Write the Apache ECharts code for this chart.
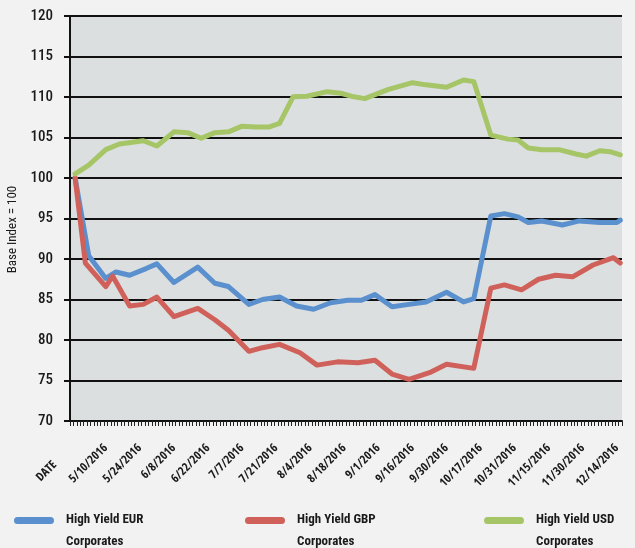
<!DOCTYPE html>
<html><head><meta charset="utf-8">
<script src="https://cdn.jsdelivr.net/npm/echarts@6/dist/echarts.min.js"></script>
<style>html,body{margin:0;padding:0;background:#f2f2f2}#c{width:635px;height:548px}</style>
</head><body><div id="c"></div>
<script>
// Category axis: first cell is the header "DATE", then US bond-market business days
const firstLabel = 'DATE';
const startDay = [2016, 4, 27];
const holidays = ['5/30/2016', '7/4/2016', '9/5/2016', '10/10/2016', '11/11/2016', '11/24/2016'];
const dayCount = 161;

const seriesNames = ['High Yield EUR Corporates', 'High Yield GBP Corporates', 'High Yield USD Corporates'];
const seriesColors = ['#5a90cd', '#d0615a', '#a6c566'];

// values read at the line vertices (index into categories)
const eurIdx = [1,5,10,13,17,22,25,30,37,42,46,52,56,61,66,71,76,81,85,89,94,99,104,110,115,118,123,127,131,134,138,144,149,155,160,161];
const eurVal = [100,90.4,87.6,88.4,88.0,88.85,89.4,87.1,89.0,87.0,86.6,84.4,85.0,85.3,84.2,83.8,84.6,84.9,84.9,85.6,84.1,84.4,84.7,85.9,84.7,85.1,95.3,95.6,95.2,94.5,94.7,94.2,94.7,94.5,94.5,94.8];

const gbpIdx = [1,4,10,12,17,21,25,30,37,42,46,52,56,61,67,72,78,84,89,94,99,105,110,118,123,127,132,137,142,147,153,159,161];
const gbpVal = [100,89.5,86.6,87.9,84.2,84.4,85.3,82.9,83.9,82.5,81.2,78.6,79.05,79.46,78.43,76.9,77.3,77.2,77.5,75.8,75.15,75.96,77.0,76.5,86.4,86.8,86.2,87.5,88.0,87.8,89.26,90.16,89.5];

const usdIdx = [1,5,10,14,21,25,30,34,38,42,46,50,54,58,61,65,69,75,79,82,86,89,93,100,104,110,115,118,123,128,131,134,138,143,148,151,155,158,161];
const usdVal = [100.5,101.6,103.5,104.2,104.6,103.95,105.7,105.6,104.9,105.6,105.7,106.4,106.3,106.3,106.75,110.04,110.1,110.66,110.46,110.1,109.8,110.3,110.95,111.77,111.5,111.2,112.1,111.9,105.3,104.8,104.7,103.7,103.5,103.5,102.96,102.7,103.37,103.25,102.84];

const yMin = 70, yMax = 120, yStep = 5;

const categories = [firstLabel];
(function () {
  const d = new Date(startDay[0], startDay[1] - 1, startDay[2]);
  while (categories.length < dayCount + 1) {
    const dow = d.getDay();
    const s = (d.getMonth() + 1) + '/' + d.getDate() + '/' + d.getFullYear();
    if (dow !== 0 && dow !== 6 && holidays.indexOf(s) < 0) categories.push(s);
    d.setDate(d.getDate() + 1);
  }
})();

const pairs = (idx, val) => idx.map((i, k) => [i, val[k]]);
const seriesData = [pairs(eurIdx, eurVal), pairs(gbpIdx, gbpVal), pairs(usdIdx, usdVal)];

const FONT_A = 'Roboto, sans-serif';
const FONT_B = '"Open Sans", sans-serif';
const legendIcon = 'path://M3.5,0 L36.5,0 A3.5,3.5,0,0,1,36.5,7 L3.5,7 A3.5,3.5,0,0,1,3.5,0 Z M46.99,27.99 L47,27.99 L47,28 L46.99,28 Z';
const legendLeft = [14, 245, 484];

const chart = echarts.init(document.getElementById('c'));
chart.setOption({
  backgroundColor: '#f2f2f2',
  animation: false,
  grid: { left: 70, right: 13, top: 16, bottom: 127, show: true, backgroundColor: '#dcdfe0', borderWidth: 0, outerBoundsMode: 'none', containLabel: false },
  legend: seriesNames.map((n, i) => ({
    data: [n], left: legendLeft[i], top: 509, padding: 0,
    icon: legendIcon, itemWidth: 47, itemHeight: 28,
    itemStyle: { borderWidth: 0 },
    formatter: name => name.replace(' Corporates', '\nCorporates'),
    textStyle: { fontFamily: FONT_A, fontSize: 13, fontWeight: 'bold condensed', color: '#1a1a1a', lineHeight: 22 }
  })),
  xAxis: {
    type: 'category', data: categories, boundaryGap: true,
    axisLine: { lineStyle: { color: '#111', width: 2 } },
    axisTick: { show: true, interval: 0, length: 5, lineStyle: { color: '#222', width: 1 } },
    axisLabel: {
      interval: 9, rotate: 45, margin: 25, fontFamily: FONT_B, fontSize: 12, fontWeight: 'bold condensed', color: '#1a1a1a',
      formatter: (v, i) => i === 0 ? '{h|' + v + '}' : v,
      rich: { h: { fontFamily: FONT_B, fontSize: 12, fontWeight: 'bold condensed', color: '#1a1a1a', padding: [0, 24, 0, 0] } }
    },
    splitLine: { show: false }
  },
  yAxis: {
    type: 'value', min: yMin, max: yMax, interval: yStep,
    name: 'Base Index = 100', nameLocation: 'middle', nameRotate: 90, nameGap: 50,
    nameTextStyle: { fontFamily: FONT_A, fontSize: 13, fontWeight: 'normal condensed', color: '#1a1a1a', padding: [0, 22, 0, 0] },
    axisLine: { show: true, lineStyle: { color: '#111', width: 2 } },
    axisTick: { show: true, length: 6, lineStyle: { color: '#111', width: 2 } },
    axisLabel: { margin: 17, fontFamily: FONT_A, fontSize: 15, fontWeight: '500 condensed', color: '#1a1a1a' },
    splitLine: { show: true, lineStyle: { color: '#111', width: 2 } }
  },
  series: seriesNames.map((n, i) => ({
    name: n, type: 'line', data: seriesData[i],
    showSymbol: false, symbol: 'none', smooth: false,
    color: seriesColors[i],
    lineStyle: { width: 5, color: seriesColors[i], cap: 'round', join: 'round' },
    z: 2 + i
  }))
});
</script>
</body></html>
